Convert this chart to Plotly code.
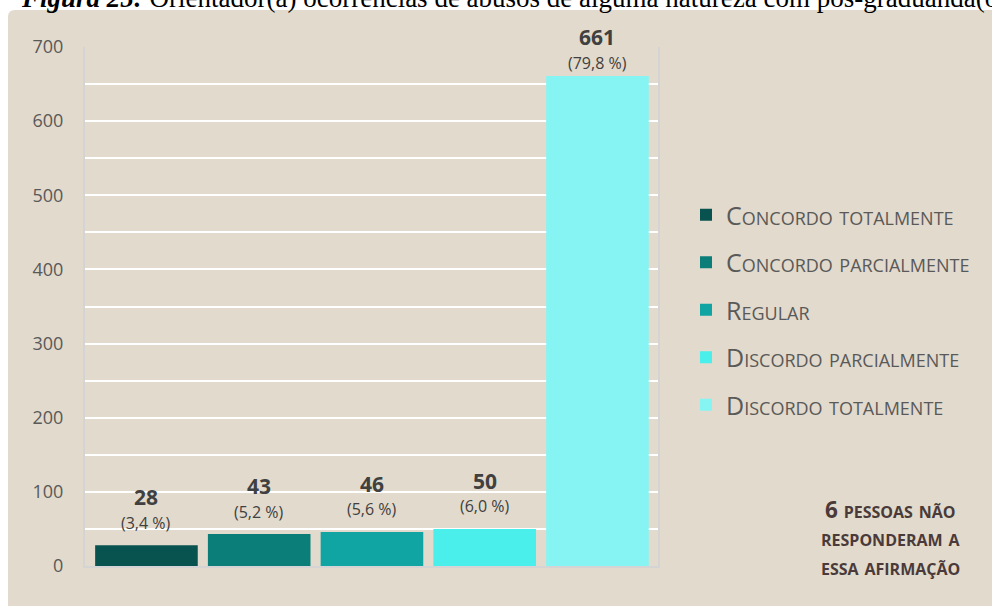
import plotly.graph_objects as go

# ---- data ----
categories = ["Concordo totalmente", "Concordo parcialmente", "Regular",
              "Discordo parcialmente", "Discordo totalmente"]
counts = [28, 43, 46, 50, 661]
percent_labels = ["(3,4 %)", "(5,2 %)", "(5,6 %)", "(6,0 %)", "(79,8 %)"]
y_tick_values = [0, 100, 200, 300, 400, 500, 600, 700]
note_lines = ["6 pessoas não", "responderam a", "essa afirmação"]
caption_bold = "Figura 25:"
caption_text = " Orientador(a) ocorrências de abusos de alguma natureza com pós-graduanda(o)"

# ---- style ----
colors = ["#085250", "#0C7E7A", "#10A4A2", "#4AEEEA", "#86F4F2"]
BG = "#E2DACC"
FONT = "Open Sans"
W, H = 992, 606
ML, MT = 85, 47               # plot area: page x 85..658, page y 47..566
MR = W - 658
MB = H - 566
PW, PH = W - ML - MR, H - MT - MB
YMAX = 700
px_per_unit = PH / YMAX


def px_x(p):
    """page pixel x -> paper x"""
    return (p - ML) / PW


def px_y(p):
    """page pixel y -> paper y"""
    return (H - MB - p) / PH


fig = go.Figure()
for i, (cat, val) in enumerate(zip(categories, counts)):
    fig.add_trace(go.Bar(
        x=[cat], y=[val], name=cat, width=0.91,
        marker=dict(color=colors[i], line=dict(width=0)),
        legendgroup=cat, hoverinfo="skip",
    ))

# data labels
for cat, val, pct in zip(categories, counts, percent_labels):
    headroom = (YMAX - val) * px_per_unit + 10
    lift = min(48, headroom)
    fig.add_annotation(x=cat, y=val, text="<b>%d</b>" % val, showarrow=False,
                       yanchor="middle", yshift=lift,
                       font=dict(family=FONT, size=21, color="#404040"))
    fig.add_annotation(x=cat, y=val, text=pct, showarrow=False,
                       yanchor="middle", yshift=lift - 25.5,
                       font=dict(family=FONT, size=16, color="#404040"))

# note at bottom right
for k, line in enumerate(note_lines):
    fig.add_annotation(xref="paper", yref="paper", x=px_x(890), y=px_y(509 + 28.5 * k),
                       text="<b>%s</b>" % line, showarrow=False,
                       xanchor="center", yanchor="middle", borderpad=0,
                       font=dict(family=FONT, size=22.5, color="#4A3A3A", variant="small-caps"))

# caption (partially cut off at top)
fig.add_annotation(xref="paper", yref="paper", x=px_x(19), y=px_y(15),
                   xanchor="left", yanchor="bottom", showarrow=False,
                   text="<b><i>%s</i></b>%s" % (caption_bold, caption_text),
                   font=dict(family="Liberation Serif", size=27, color="#000000"))

# beige chart area with rounded top-left corner
x0, x1 = px_x(8), px_x(1010)
y0, y1 = px_y(620), px_y(10)
rx, ry = 7 / PW, 7 / PH
path = (f"M {x0},{y0} L {x0},{y1 - ry} Q {x0},{y1} {x0 + rx},{y1} "
        f"L {x1},{y1} L {x1},{y0} Z")
fig.add_shape(type="path", path=path, xref="paper", yref="paper",
              fillcolor=BG, line=dict(width=0), layer="below")

fig.update_layout(
    width=W, height=H,
    margin=dict(l=ML, r=MR, t=MT, b=MB, pad=0),
    paper_bgcolor="white", plot_bgcolor="rgba(0,0,0,0)",
    barmode="overlay",
    showlegend=True,
    legend=dict(x=px_x(686), y=px_y(192), xanchor="left", yanchor="top",
                bgcolor="rgba(0,0,0,0)", tracegroupgap=12,
                font=dict(family=FONT, size=25, color="#595959", variant="small-caps")),
    xaxis=dict(type="category", range=[-0.545, 4.537], showticklabels=False,
               showgrid=False, zeroline=False, fixedrange=True,
               showline=True, linecolor="#D4D4D4", linewidth=2),
    yaxis=dict(range=[0, YMAX], tickvals=y_tick_values, showgrid=True,
               gridcolor="white", gridwidth=2, zeroline=False,
               showline=True, mirror=True, linecolor="#D4D4D4", linewidth=2,
               ticks="", ticklabelstandoff=16,
               tickfont=dict(family=FONT, size=18, color="#595959"),
               minor=dict(dtick=50, showgrid=True, gridcolor="white", gridwidth=2)),
)

fig.write_html("out.html", config={"displayModeBar": False},
               post_script="document.body.style.margin='0';")
